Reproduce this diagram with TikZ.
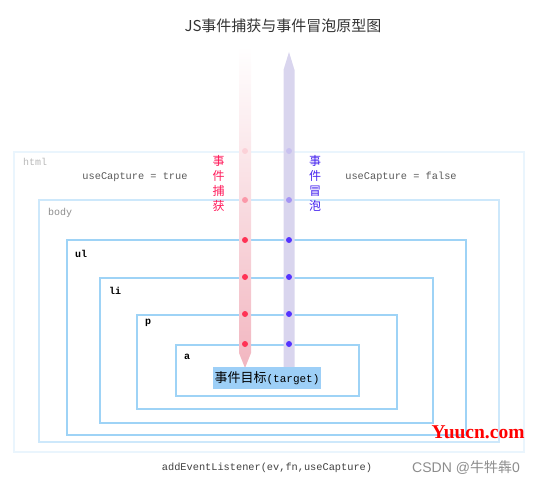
\documentclass[tikz,border=0pt]{standalone}
\usepackage{fontspec}
\setmainfont{Liberation Serif}
\setmonofont{Liberation Mono}
\newfontfamily\cjk{Noto Sans CJK SC}
\newfontfamily\sansf{Liberation Sans}
\definecolor{htmlc}{HTML}{EAF5FD}
\definecolor{bodyc}{HTML}{CDE8FB}
\definecolor{boxc}{HTML}{9ED3F6}
\definecolor{capt}{HTML}{F2B6C0}
\definecolor{bubl}{HTML}{D9D5EE}
\definecolor{captdot}{HTML}{FF3355}
\definecolor{bubdot}{HTML}{5533FF}
\definecolor{captxt}{HTML}{FF1A5A}
\definecolor{bubtxt}{HTML}{4422EE}
\definecolor{tgt}{HTML}{9DCFF7}
\definecolor{titlec}{HTML}{333333}
\tikzset{
  lvl/.style={line width=2pt},
  tag/.style={anchor=west,inner sep=0pt,font=\ttfamily\fontsize{10}{12}\selectfont},
  note/.style={inner sep=0pt,font=\ttfamily\fontsize{10.3}{12}\selectfont,text=black!65},
  vlab/.style={inner sep=0pt,align=center,font=\cjk\fontsize{12}{15}\selectfont},
  cdot/.style={circle,fill=captdot,inner sep=0pt,minimum size=6pt},
  bdot/.style={circle,fill=bubdot,inner sep=0pt,minimum size=6pt}
}
\begin{document}
\begin{tikzpicture}[x=1pt,y=-1pt]
\useasboundingbox (0,0) rectangle (540,486);
% nested element boxes
\draw[lvl,htmlc] (14,152) rectangle (524,452);
\draw[lvl,bodyc] (39,200) rectangle (499,442);
\draw[lvl,boxc] (67,240) rectangle (466,435);
\draw[lvl,boxc] (100,278) rectangle (433,423);
\draw[lvl,boxc] (137,315) rectangle (397,409);
\draw[lvl,boxc] (176,345) rectangle (359,396);
% labels of boxes
\node[tag,text=black!28] (lhtml) at (23,162) {html};
\node[tag,text=black!45] (lbody) at (48,213) {body};
\node[tag,font=\ttfamily\bfseries\fontsize{10}{12}\selectfont] (lul) at (75,254) {ul};
\node[tag,font=\ttfamily\bfseries\fontsize{10}{12}\selectfont] (lli) at (109,291) {li};
\node[tag,font=\ttfamily\bfseries\fontsize{10}{12}\selectfont] (lp) at (145,323) {p};
\node[tag,font=\ttfamily\bfseries\fontsize{10}{12}\selectfont] (la) at (184,357) {a};
% capture arrow
\shade[top color=white, middle color=capt!72, bottom color=capt]
  (239,46) -- (251,46) -- (251,353) -- (245,368) -- (239,353) -- cycle;
% bubble arrow
\fill[bubl] (283.5,367) -- (283.5,70) -- (289,52) -- (294.5,70) -- (294.5,367) -- cycle;
% dots
\node[cdot,opacity=0.12] (c1) at (245,151) {};
\node[cdot,opacity=0.4] (c2) at (245,200) {};
\node[cdot] (c3) at (245,240) {};
\node[cdot] (c4) at (245,277) {};
\node[cdot] (c5) at (245,314) {};
\node[cdot] (c6) at (245,344) {};
\node[bdot,opacity=0.12] (b1) at (289,151) {};
\node[bdot,opacity=0.4] (b2) at (289,200) {};
\node[bdot] (b3) at (289,240) {};
\node[bdot] (b4) at (289,277) {};
\node[bdot] (b5) at (289,314) {};
\node[bdot] (b6) at (289,344) {};
% vertical labels
\node[vlab,text=captxt] (capl) at (218.5,183) {事\\件\\捕\\获};
\node[vlab,text=bubtxt] (bubl) at (315,183) {事\\件\\冒\\泡};
% useCapture notes
\node[note] (utrue) at (135,177) {useCapture = true};
\node[note] (ufalse) at (401,177) {useCapture = false};
% target
\node[fill=tgt,minimum width=108pt,minimum height=22pt,inner sep=0pt] (target) at (267,378)
  {{\cjk\fontsize{13}{15}\selectfont 事件目标}{\ttfamily\fontsize{11}{12}\selectfont(target)}};
% title
\node[inner sep=0pt,text=titlec,font=\cjk\fontsize{15}{17}\selectfont] (title) at (283,26) {JS事件捕获与事件冒泡原型图};
% bottom texts
\node[note,text=black!75] (api) at (267,468) {addEventListener(ev,fn,useCapture)};
\node[inner sep=0pt,text=red,font=\bfseries\fontsize{19.5}{21}\selectfont] (yuucn) at (478,432) {Yuucn.com};
\node[inner sep=0pt,text=black!45,font=\fontsize{14}{16}\selectfont] (csdn) at (466,468) {\sansf CSDN @\cjk 牛牪犇\sansf 0};
\end{tikzpicture}
\end{document}
